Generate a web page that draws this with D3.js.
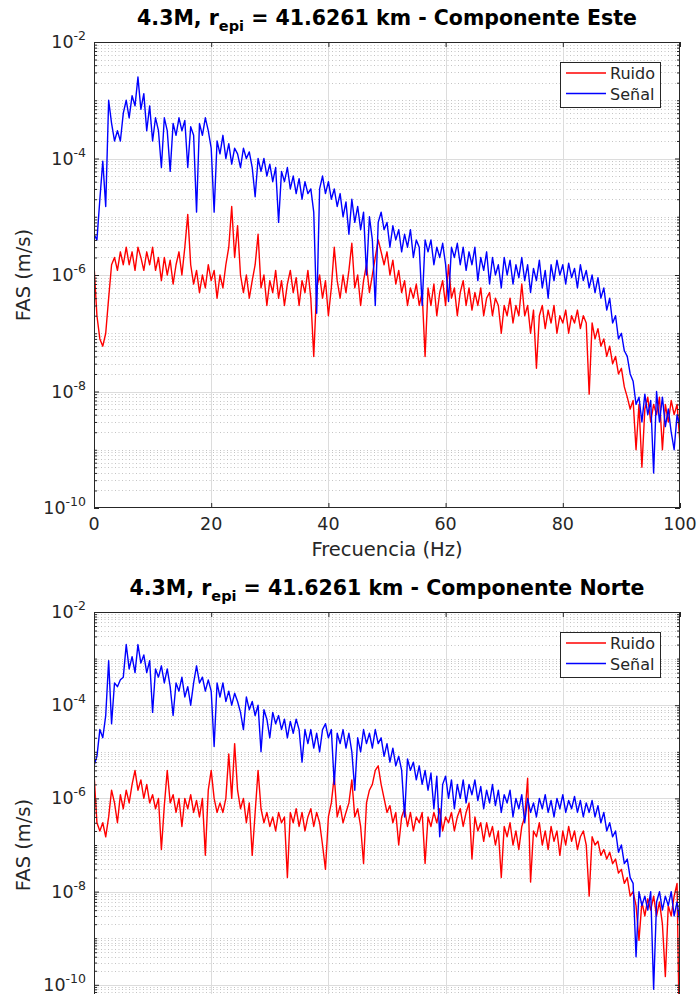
<!DOCTYPE html>
<html><head><meta charset="utf-8">
<script src="https://cdn.jsdelivr.net/npm/d3@7"></script>
<style>html,body{margin:0;padding:0;background:#fff}svg{display:block}</style>
</head><body>
<svg id="chart" width="698" height="994"></svg>
<script>
// ---- data (FAS in m/s, one value every 0.5 Hz from 0 to 100 Hz) ----
const freqStart = 0, freqEnd = 100, freqStep = 0.5;
const xTicks = [0, 20, 40, 60, 80, 100];
const seriesNames = ["Ruido", "Señal"];

const ruidoEste = [
1.5e-6,2e-7,8e-8,6e-8,1e-7,4e-7,1.5e-6,2e-6,1.2e-6,2.5e-6,
1.5e-6,3e-6,1.5e-6,2.5e-6,1.2e-6,3e-6,2e-6,1.2e-6,2.5e-6,1.5e-6,
3e-6,1.2e-6,2e-6,8e-7,2e-6,1e-6,1.8e-6,7e-7,1.5e-6,2.5e-6,
1e-6,3e-6,1.1e-5,1.5e-6,7e-7,1.2e-6,5e-7,1e-6,6e-7,1.5e-6,
8e-7,1.2e-6,4e-7,1e-6,6e-7,1.5e-6,3e-6,1.5e-5,2e-6,7e-6,
1e-6,5e-7,1e-6,4e-7,8e-7,1.5e-6,5e-6,6e-7,1e-6,3e-7,
8e-7,5e-7,1.2e-6,4e-7,8e-7,3e-7,7e-7,1.2e-6,5e-7,9e-7,
3e-7,8e-7,5e-7,1.2e-6,4e-7,4e-8,6e-7,1e-6,4e-7,8e-7,
2e-7,6e-7,3e-6,8e-7,4e-7,1e-6,5e-7,1.2e-6,3.5e-6,6e-7,
1e-6,3e-7,8e-7,1.5e-6,5e-7,1e-6,2e-6,4e-6,2.5e-6,1.5e-6,
2.5e-6,1e-6,1.8e-6,7e-7,1.2e-6,5e-7,8e-7,3e-7,6e-7,4e-7,
7e-7,3e-7,5e-7,4e-8,6e-7,3e-7,7e-7,2e-7,5e-7,8e-7,
3e-7,1.5e-6,4e-7,6e-7,2e-7,5e-7,8e-7,3e-7,6e-7,2.5e-7,
5e-7,3e-7,6e-7,2e-7,4e-7,5e-7,2e-7,4e-7,3e-7,1e-7,
3e-7,2e-7,4e-7,1.5e-7,3e-7,2e-7,7e-7,2e-7,3e-7,1e-7,
2.5e-7,2.5e-8,2e-7,3e-7,1.2e-7,2.5e-7,1.5e-7,3e-7,1e-7,2e-7,
1.5e-7,2.5e-7,1e-7,2e-7,1.5e-7,2.5e-7,1.2e-7,2e-7,1.5e-7,9e-9,
1.5e-7,8e-8,1.2e-7,6e-8,8e-8,4e-8,6e-8,3e-8,4e-8,2e-8,
2.5e-8,1.2e-8,8e-9,5e-9,7e-9,1e-9,6e-9,5e-10,5e-9,8e-9,
3e-9,6e-9,4e-9,8e-9,1e-9,6e-9,3e-9,7e-9,4e-9,6e-9,
1.3e-9];

const senalEste = [
5e-6,4e-6,2e-5,9e-5,1.5e-5,1e-3,4e-4,2e-4,3e-4,2e-4,
6e-4,1e-3,5e-4,1.2e-3,8e-4,2.5e-3,7e-4,1.3e-3,3e-4,8e-4,
2e-4,5e-4,3e-4,7e-5,5e-4,3e-4,6e-5,4e-4,2.5e-4,5e-4,
3e-4,4.5e-4,7e-5,3.5e-4,2.5e-4,1.2e-5,4e-4,2.5e-4,5e-4,3e-4,
1.5e-4,1.2e-5,2e-4,1.2e-4,2.5e-4,1e-4,1.8e-4,8e-5,1.5e-4,1.2e-4,
7e-5,1.5e-4,1e-4,1.3e-4,7e-5,2.2e-5,1e-4,6e-5,1e-4,5e-5,
8e-5,4e-5,7e-5,8e-6,6e-5,4e-5,7e-5,3e-5,5e-5,2.5e-5,
4.5e-5,2e-5,4e-5,2.5e-5,3e-5,1.2e-5,2.2e-7,3e-5,5e-5,2.5e-5,
4e-5,2e-5,3e-5,1.5e-5,2.5e-5,1e-5,1.8e-5,5e-6,2e-5,8e-6,
1.5e-5,6e-6,1.2e-5,1e-6,1e-5,4e-6,3e-7,8e-6,1.2e-5,6e-6,
8e-6,3e-6,7e-6,4e-6,6e-6,2.5e-6,5e-6,3e-6,6e-6,2e-6,
4e-6,3e-6,3e-7,4e-6,2.5e-6,4e-6,1.5e-6,3e-6,2e-6,3.5e-6,
1.5e-6,3.5e-7,3e-6,2e-6,3.5e-6,1.5e-6,3e-6,1.2e-6,2.5e-6,1.5e-6,
3e-6,8e-7,2e-6,1.2e-6,2.5e-6,7e-7,2e-6,1e-6,1.5e-6,6e-7,
2e-6,1e-6,1.8e-6,7e-7,1.5e-6,9e-7,2e-6,8e-7,1.5e-6,5e-7,
1.3e-6,8e-7,1.8e-6,6e-7,1.2e-6,4e-7,1.5e-6,8e-7,1.8e-6,1e-6,
1.5e-6,7e-7,1.6e-6,9e-7,1.3e-6,6e-7,1.5e-6,8e-7,1.2e-6,6e-7,
1e-6,5e-7,9e-7,4e-7,6e-7,2.5e-7,4e-7,1.5e-7,2e-7,8e-8,
1e-7,5e-8,4e-8,2e-8,1.5e-8,6e-9,8e-9,3e-9,9e-9,4e-9,
7e-9,4e-10,1e-8,3e-9,8e-9,2.5e-9,5e-9,2e-9,1e-9,4e-9,
2.5e-9];

const ruidoNorte = [
3.5e-6,3e-7,2e-7,3e-7,1.5e-7,4e-7,1.5e-6,8e-7,3e-7,1.2e-6,
6e-7,1.5e-6,8e-7,2e-6,4e-6,1.5e-6,2.5e-6,1e-6,2e-6,8e-7,
1.2e-6,6e-7,1e-6,8e-8,7e-7,4e-6,8e-7,1.2e-6,5e-7,1e-6,
2.5e-7,1e-6,6e-7,1.2e-6,5e-7,9e-7,4e-7,1e-6,6e-8,1.5e-6,
4e-6,1e-6,5e-7,8e-7,5e-7,1e-6,9e-6,1e-6,1.5e-5,1.5e-6,
6e-7,1e-6,3e-7,8e-7,6e-8,5e-7,4e-6,6e-7,3e-7,5e-7,
2.5e-7,4e-7,2e-7,5e-7,3e-7,4e-7,2e-8,5e-7,3e-7,6e-7,
2.5e-7,5e-7,2e-7,4e-7,6e-7,2.5e-7,5e-7,3e-7,1e-7,3e-8,
4e-7,8e-7,3e-6,4e-7,7e-7,3e-7,5e-7,8e-7,2.5e-6,4e-7,
6e-7,2.5e-7,4e-8,8e-7,1.5e-6,2e-6,4e-6,5e-6,2e-6,1e-6,
5e-7,7e-7,3e-7,5e-7,1e-7,4e-7,6e-7,2.5e-7,5e-7,2e-7,
4e-7,3e-7,5e-7,4e-8,4e-7,2.5e-7,5e-7,3e-7,6e-7,2e-7,
4e-7,3e-7,5e-7,2e-7,4e-7,6e-7,2.5e-7,5e-7,8e-7,5e-8,
4e-7,2e-7,3e-7,1.2e-7,3e-7,1.5e-7,2.5e-7,1e-7,2e-7,2e-8,
2.5e-7,1.5e-7,3e-7,1e-7,2e-7,8e-8,2.5e-7,4e-7,2.7e-6,1.6e-8,
2e-7,1.5e-7,3e-7,1e-7,2e-7,8e-8,2.5e-7,1.2e-7,2e-7,6e-8,
2e-7,1e-7,2.5e-7,1.2e-7,2e-7,8e-8,1.5e-7,2e-7,1e-7,8e-9,
1.5e-7,1e-7,1.2e-7,6e-8,8e-8,5e-8,7e-8,4e-8,5e-8,2.5e-8,
3e-8,1.5e-8,2e-8,8e-9,1e-8,5e-9,9e-10,6e-9,3e-9,7e-9,
4e-9,8e-9,3e-9,6e-9,2e-9,1.5e-10,5e-9,3e-9,8e-9,1.5e-8,
1e-12];

const senalNorte = [
5e-6,8e-6,3e-5,2e-5,6e-5,9e-4,4e-5,3e-4,2.5e-4,3.5e-4,
4e-4,2e-3,6e-4,1.1e-3,5e-4,2e-3,8e-4,1.2e-3,5e-4,9e-4,
7e-5,6e-4,4e-4,7e-4,3e-4,6e-4,2.5e-4,6e-5,3e-4,2e-4,
4e-4,1.5e-4,2.5e-4,1e-4,3e-4,7e-4,3e-4,4e-4,2e-4,3.5e-4,
2e-4,1.3e-5,3e-4,1.5e-4,3e-4,1.2e-4,2e-4,1e-4,1.8e-4,1.2e-4,
7e-5,3e-5,1.5e-4,8e-5,1.2e-4,6e-5,1e-4,1e-5,8e-5,5e-5,
2e-5,7e-5,4e-5,6e-5,3e-5,5e-5,2e-5,4.5e-5,2.5e-5,5e-5,
3e-5,6e-6,3e-5,1.5e-5,3e-5,1.2e-5,2.5e-5,1e-5,3e-5,4e-5,
2e-5,3e-5,2e-6,2.5e-5,1.5e-5,3e-5,1.2e-5,2.5e-5,1e-5,1.5e-6,
2e-5,1e-5,3e-5,1.5e-5,2.5e-5,1.2e-5,3e-5,1.5e-5,2e-5,8e-6,
1.5e-5,6e-6,1.2e-5,5e-6,8e-6,4e-6,4e-7,7e-6,4e-6,6e-6,
2.5e-6,5e-6,2e-6,4e-6,1.5e-6,3.5e-6,6e-7,3e-6,1.5e-7,2e-6,
3e-6,1e-6,2.5e-6,6e-7,2e-6,1e-6,2.5e-6,8e-7,2e-6,1.2e-6,
2.5e-6,9e-7,1.8e-6,6e-7,1.5e-6,8e-7,2e-6,7e-7,1.5e-6,5e-7,
1.2e-6,8e-7,1.5e-6,4e-7,1e-6,6e-7,1.2e-6,3e-7,1e-6,5e-7,
8e-7,4e-7,1e-6,6e-7,1.2e-6,5e-7,9e-7,4e-7,1e-6,6e-7,
1.2e-6,5e-7,9e-7,6e-7,1.1e-6,5e-7,9e-7,4e-7,8e-7,5e-7,
9e-7,4e-7,7e-7,3e-7,5e-7,2e-7,3e-7,1.5e-7,2e-7,7e-8,
1e-7,4e-8,5e-8,2e-8,1.5e-8,4e-10,1e-8,5e-9,8e-9,4e-9,
1e-8,8e-11,6e-9,1e-8,4e-9,8e-9,5e-9,1e-8,3e-9,6e-9,
2e-9];

const titleEste = ["4.3M, r", "epi", " = 41.6261 km - Componente Este"];
const titleNorte = ["4.3M, r", "epi", " = 41.6261 km - Componente Norte"];
const yTicksEste = [1e-10, 1e-8, 1e-6, 1e-4, 1e-2];
const yTicksNorte = [1e-12, 1e-10, 1e-8, 1e-6, 1e-4, 1e-2];
const xLabel = "Frecuencia (Hz)";
const yLabel = "FAS (m/s)";

// ---- layout ----
const W = 698, H = 994;
const L = 94, R = 680, PH = 466;
const colors = {Ruido: "#ff0000", "Señal": "#0000ff"};
const axisColor = "#262626";
const FONT = "'DejaVu Sans', sans-serif";

const svg = d3.select("#chart");
svg.append("rect").attr("width", W).attr("height", H).attr("fill", "#fff");

const freqs = d3.range(freqStart, freqEnd + freqStep / 2, freqStep);

const panels = [
  {id: "este", top: 42, title: titleEste, titleY: 25, ruido: ruidoEste, senal: senalEste,
   yDomain: [1e-10, 1e-2], yTicks: yTicksEste, showX: true},
  {id: "norte", top: 612, title: titleNorte, titleY: 595, ruido: ruidoNorte, senal: senalNorte,
   yDomain: [1e-12, 1e-2], yTicks: yTicksNorte, showX: false}
];

panels.forEach(p => {
  const g = svg.append("g");
  const x = d3.scaleLinear().domain([freqStart, freqEnd]).range([L, R]);
  const y = d3.scaleLog().domain(p.yDomain).range([p.top + PH, p.top]);

  svg.append("clipPath").attr("id", "clip-" + p.id)
    .append("rect").attr("x", L).attr("y", p.top).attr("width", R - L).attr("height", PH);

  // minor horizontal grid (dotted)
  const lo = Math.round(Math.log10(p.yDomain[0])), hi = Math.round(Math.log10(p.yDomain[1]));
  const majorSet = new Set(p.yTicks.map(v => Math.round(Math.log10(v))));
  const minorVals = [];
  for (let d = lo; d < hi; d++) {
    for (let k = 1; k <= 9; k++) {
      if (k === 1 && majorSet.has(d)) continue;
      minorVals.push(k * Math.pow(10, d));
    }
  }
  g.append("g").selectAll("line").data(minorVals).join("line")
    .attr("x1", L).attr("x2", R)
    .attr("y1", d => Math.round(y(d)) + 0.5).attr("y2", d => Math.round(y(d)) + 0.5)
    .attr("stroke", "#c4c4c4").attr("stroke-width", 1).attr("stroke-dasharray", "1,2.5");

  // major grid
  g.append("g").selectAll("line").data(xTicks.filter(v => v > freqStart && v < freqEnd)).join("line")
    .attr("x1", d => Math.round(x(d)) + 0.5).attr("x2", d => Math.round(x(d)) + 0.5)
    .attr("y1", p.top).attr("y2", p.top + PH)
    .attr("stroke", "#dcdcdc").attr("stroke-width", 1);
  g.append("g").selectAll("line").data(p.yTicks.filter(v => v > p.yDomain[0] && v < p.yDomain[1])).join("line")
    .attr("x1", L).attr("x2", R)
    .attr("y1", d => Math.round(y(d)) + 0.5).attr("y2", d => Math.round(y(d)) + 0.5)
    .attr("stroke", "#dcdcdc").attr("stroke-width", 1);

  // series
  const line = d3.line().x((d, i) => x(freqs[i])).y(d => y(d));
  const plot = g.append("g").attr("clip-path", "url(#clip-" + p.id + ")");
  plot.append("path").datum(p.ruido).attr("d", line)
    .attr("fill", "none").attr("stroke", colors.Ruido).attr("stroke-width", 1.4).attr("stroke-linejoin", "round");
  plot.append("path").datum(p.senal).attr("d", line)
    .attr("fill", "none").attr("stroke", colors["Señal"]).attr("stroke-width", 1.4).attr("stroke-linejoin", "round");

  // axes with inward ticks
  const styleAxis = sel => { sel.select(".domain").remove(); sel.selectAll("line").attr("stroke", axisColor); };
  g.append("g").attr("transform", `translate(0,${p.top + PH})`)
    .call(d3.axisBottom(x).tickValues(xTicks).tickSize(-5).tickFormat(""))
    .call(styleAxis);
  g.append("g").attr("transform", `translate(0,${p.top})`)
    .call(d3.axisTop(x).tickValues(xTicks).tickSize(-5).tickFormat(""))
    .call(styleAxis);
  g.append("g").attr("transform", `translate(${L},0)`)
    .call(d3.axisLeft(y).tickValues(p.yTicks).tickSize(-5).tickFormat(""))
    .call(styleAxis);
  g.append("g").attr("transform", `translate(${R},0)`)
    .call(d3.axisRight(y).tickValues(p.yTicks).tickSize(-5).tickFormat(""))
    .call(styleAxis);
  g.append("g").attr("transform", `translate(${L},0)`)
    .call(d3.axisLeft(y).tickValues(minorVals).tickSize(-3).tickFormat(""))
    .call(styleAxis);
  g.append("g").attr("transform", `translate(${R},0)`)
    .call(d3.axisRight(y).tickValues(minorVals).tickSize(-3).tickFormat(""))
    .call(styleAxis);

  // box
  g.append("rect").attr("x", L + 0.5).attr("y", p.top + 0.5).attr("width", R - L - 1).attr("height", PH - 1)
    .attr("fill", "none").attr("stroke", axisColor).attr("stroke-width", 1);

  // y tick labels 10^n
  const yl = g.append("g").attr("font-family", FONT).attr("fill", axisColor);
  const t = yl.selectAll("text").data(p.yTicks.filter(v => y(v) < H - 8)).join("text")
    .attr("x", L - 8).attr("y", d => y(d) + 6).attr("text-anchor", "end").attr("font-size", 17.5);
  t.append("tspan").text("10");
  t.append("tspan").attr("dy", -8).attr("font-size", 12.5).text(d => String(Math.round(Math.log10(d))));

  // x tick labels
  if (p.showX) {
    g.append("g").selectAll("text").data(xTicks).join("text")
      .attr("x", d => x(d)).attr("y", p.top + PH + 22).attr("text-anchor", "middle")
      .attr("font-family", FONT).attr("font-size", 17.5).attr("fill", axisColor).text(d => d);
    g.append("text").attr("x", (L + R) / 2).attr("y", p.top + PH + 48).attr("text-anchor", "middle")
      .attr("font-family", FONT).attr("font-size", 19.5).attr("fill", axisColor).text(xLabel);
  }
  // y label
  g.append("text").attr("transform", `translate(30,${p.top + PH / 2}) rotate(-90)`)
    .attr("text-anchor", "middle").attr("font-family", FONT).attr("font-size", 19.5)
    .attr("fill", axisColor).text(yLabel);

  // title
  const tt = g.append("text").attr("x", (L + R) / 2).attr("y", p.titleY).attr("text-anchor", "middle")
    .attr("font-family", FONT).attr("font-weight", "bold").attr("font-size", 20.5).attr("fill", "#000");
  tt.append("tspan").text(p.title[0]);
  tt.append("tspan").attr("dy", 6).attr("font-size", 14.5).text(p.title[1]);
  tt.append("tspan").attr("dy", -6).text(p.title[2]);

  // legend
  const lg = g.append("g").attr("font-family", FONT).attr("font-size", 16).attr("fill", axisColor);
  lg.append("rect").attr("x", 560.5).attr("y", p.top + 20.5).attr("width", 100).attr("height", 45)
    .attr("fill", "#fff").attr("stroke", axisColor).attr("stroke-width", 1);
  seriesNames.forEach((name, i) => {
    const ly = p.top + 31 + i * 20.5;
    lg.append("line").attr("x1", 566).attr("x2", 606).attr("y1", ly).attr("y2", ly)
      .attr("stroke", colors[name]).attr("stroke-width", 1.4);
    lg.append("text").attr("x", 610).attr("y", ly + 6).text(name);
  });
});
</script>
</body></html>
